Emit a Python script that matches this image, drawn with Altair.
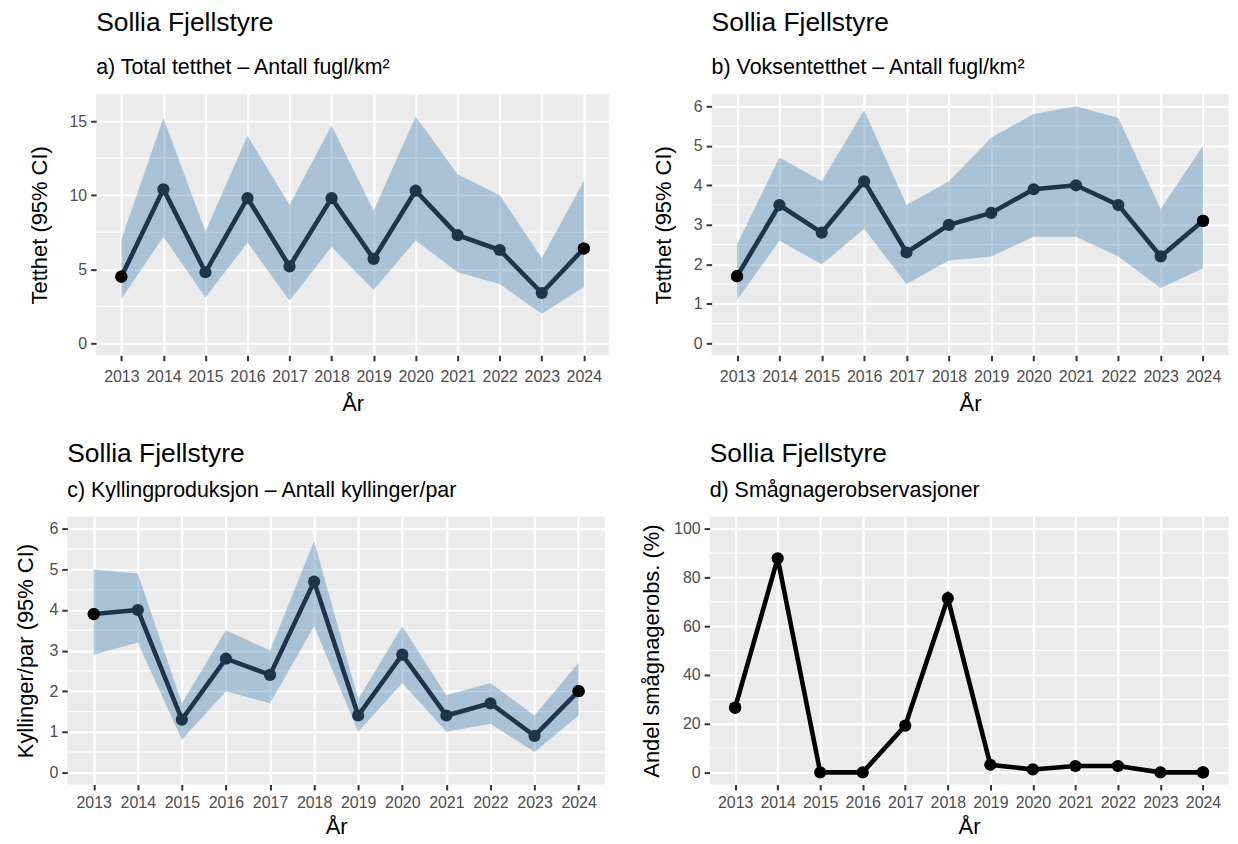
import altair as alt
import pandas as pd

FONT = "Liberation Sans"

years = [2013, 2014, 2015, 2016, 2017, 2018, 2019, 2020, 2021, 2022, 2023, 2024]

# a) Total tetthet
a_est = [4.5, 10.4, 4.8, 9.8, 5.2, 9.8, 5.7, 10.3, 7.3, 6.3, 3.4, 6.4]
a_lo = [3.0, 7.2, 3.1, 6.8, 2.9, 6.5, 3.6, 6.95, 4.8, 4.0, 2.0, 3.8]
a_hi = [7.0, 15.2, 7.55, 14.0, 9.35, 14.7, 8.95, 15.3, 11.4, 10.0, 5.76, 10.96]

# b) Voksentetthet
b_est = [1.7, 3.5, 2.8, 4.1, 2.3, 3.0, 3.3, 3.9, 4.0, 3.5, 2.2, 3.1]
b_lo = [1.1, 2.6, 2.0, 2.9, 1.5, 2.1, 2.2, 2.7, 2.7, 2.2, 1.4, 1.9]
b_hi = [2.5, 4.7, 4.1, 5.9, 3.5, 4.1, 5.2, 5.8, 6.0, 5.7, 3.4, 5.0]

# c) Kyllingproduksjon
c_est = [3.9, 4.0, 1.3, 2.8, 2.4, 4.7, 1.4, 2.9, 1.4, 1.7, 0.9, 2.0]
c_lo = [2.9, 3.2, 0.8, 2.0, 1.7, 3.6, 1.0, 2.2, 1.0, 1.2, 0.5, 1.4]
c_hi = [5.0, 4.9, 1.7, 3.5, 3.0, 5.7, 1.8, 3.6, 1.9, 2.2, 1.4, 2.7]

# d) Smågnagerobservasjoner (%)
d_est = [26.6, 87.9, 0.0, 0.0, 19.2, 71.5, 3.1, 1.2, 2.6, 2.6, 0.0, 0.0]

a_ticks, a_minor, a_domain = [0, 5, 10, 15], [2.5, 7.5, 12.5], [-0.8, 16.8]
b_ticks, b_minor, b_domain = [0, 1, 2, 3, 4, 5, 6], [0.5, 1.5, 2.5, 3.5, 4.5, 5.5], [-0.3, 6.3]
c_ticks, c_minor, c_domain = [0, 1, 2, 3, 4, 5, 6], [0.5, 1.5, 2.5, 3.5, 4.5, 5.5], [-0.3, 6.3]
d_ticks, d_minor, d_domain = [0, 20, 40, 60, 80, 100], [10, 30, 50, 70, 90], [-5, 105]

NAVY = "#1E344B"
RIBBON = "#4682B4"


def panel(est, lo, hi, ticks, minor, domain, subtitle, ytitle, width, height,
          ytitle_pad, sub_pad, title_offset, xlab_pad, xtitle_pad, line_color=NAVY):
    df = pd.DataFrame({"year": years, "est": est})
    if lo is not None:
        df["lo"] = lo
        df["hi"] = hi
    xenc = alt.X("year:O", scale=alt.Scale(type="point", padding=0.6),
                 axis=alt.Axis(title="År", labelAngle=0, titlePadding=xtitle_pad,
                               labelPadding=xlab_pad))
    yscale = alt.Scale(domain=domain, nice=False, zero=False)
    yaxis = alt.Axis(title=ytitle, values=ticks, titlePadding=ytitle_pad)

    base = alt.Chart(df)
    minor_df = pd.DataFrame({"m": minor})
    rules = alt.Chart(minor_df).mark_rule(color="white", strokeWidth=1.1).encode(
        y=alt.Y("m:Q", scale=yscale, axis=yaxis)
    )
    layers = [rules]
    if lo is not None:
        area = base.mark_area(color=RIBBON, opacity=0.4).encode(
            x=xenc, y=alt.Y("lo:Q", scale=yscale, axis=yaxis), y2="hi:Q"
        )
        layers.append(area)
    line = base.mark_line(color=line_color, strokeWidth=4.6).encode(
        x=xenc, y=alt.Y("est:Q", scale=yscale, axis=yaxis)
    )
    pts = base.mark_circle(color=line_color, size=150, opacity=1).encode(
        x=xenc, y=alt.Y("est:Q", scale=yscale, axis=yaxis)
    )
    ends = base.transform_filter(
        (alt.datum.year == years[0]) | (alt.datum.year == years[-1])
    ).mark_circle(color="black", size=150, opacity=1).encode(
        x=xenc, y=alt.Y("est:Q", scale=yscale, axis=yaxis)
    )
    layers += [line, pts, ends]
    return alt.layer(*layers).properties(
        width=width, height=height,
        title=alt.TitleParams(text="Sollia Fjellstyre", subtitle=subtitle,
                              subtitlePadding=sub_pad, offset=title_offset),
    )


pa = panel(a_est, a_lo, a_hi, a_ticks, a_minor, a_domain,
           "a) Total tetthet – Antall fugl/km²", "Tetthet (95% CI)", 515, 262,
           18, 21, 16, 8, 9)
pb = panel(b_est, b_lo, b_hi, b_ticks, b_minor, b_domain,
           "b) Voksentetthet – Antall fugl/km²", "Tetthet (95% CI)", 519, 262,
           18, 21, 16, 8, 9)
pc = panel(c_est, c_lo, c_hi, c_ticks, c_minor, c_domain,
           "c) Kyllingproduksjon – Antall kyllinger/par", "Kyllinger/par (95% CI)", 540, 269,
           11, 13, 15, 5, 6)
pd_ = panel(d_est, None, None, d_ticks, d_minor, d_domain,
            "d) Smågnagerobservasjoner", "Andel smågnagerobs. (%)", 521, 269,
            10, 13, 15, 5, 6, line_color="black")


def spacer():
    # invisible 1px cell that fixes where each row starts
    return alt.Chart(pd.DataFrame({"v": [0]})).mark_point(opacity=0, size=1).encode(
        x=alt.value(0), y=alt.value(0)
    ).properties(width=1, height=1)


row1 = alt.hconcat(alt.hconcat(spacer(), pa, spacing=17.5), pb, spacing=41.5)
row2 = alt.hconcat(alt.hconcat(spacer(), pc, spacing=4.5), pd_, spacing=33.5)

chart = alt.vconcat(row1, row2, spacing=26).properties(
    padding={"left": 0, "top": 0, "right": 0, "bottom": 0}
).configure_view(
    fill="#EBEBEB", stroke=None
).configure_axis(
    grid=True, gridColor="white", gridWidth=2.2,
    domain=False,
    tickColor="#333333", tickWidth=2, tickSize=5.5,
    labelColor="#4D4D4D", labelFont=FONT, labelFontSize=16, labelPadding=4,
    titleColor="black", titleFont=FONT, titleFontSize=22, titleFontWeight="normal",
).configure_title(
    font=FONT, fontSize=26.5, fontWeight="normal", color="black", anchor="start",
    frame="group",
    subtitleFont=FONT, subtitleFontSize=21.5, subtitleColor="black",
)

chart.save("out.html", embed_options={"renderer": "svg", "actions": False})
